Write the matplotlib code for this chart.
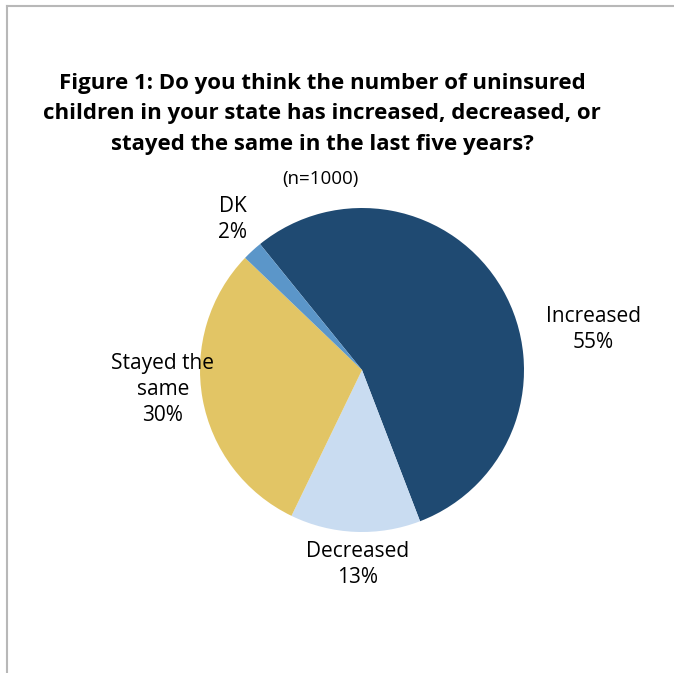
import matplotlib.pyplot as plt
from matplotlib.lines import Line2D

plt.rcParams['font.family'] = ['Open Sans', 'DejaVu Sans']

categories = ['Increased', 'Decreased', 'Stayed the\nsame', 'DK']
shares = [55, 13, 30, 2]
colors = ['#1F4A72', '#C9DCF1', '#E2C565', '#5B96C9']

# label anchor points in pie units (radius = 1)
label_xy = [(1.43, 0.25), (-0.03, -1.20), (-1.23, -0.12), (-0.80, 0.93)]

W, H = 674, 673
fig = plt.figure(figsize=(W / 100, H / 100), dpi=100)

# thin gray frame along the top and left edges
fig.add_artist(Line2D([7 / W, 7 / W], [0, 1 - 6 / H], color='#B8B8B8', lw=1.5))
fig.add_artist(Line2D([7 / W, 1], [1 - 6 / H, 1 - 6 / H], color='#B8B8B8', lw=1.5))

cx, cy, r = 362, 370, 162
ax = fig.add_axes([(cx - r) / W, (H - cy - r) / H, 2 * r / W, 2 * r / H])
ax.pie(shares, colors=colors, startangle=129, counterclock=False,
       radius=1, wedgeprops=dict(linewidth=0))
ax.set_xlim(-1, 1)
ax.set_ylim(-1, 1)
ax.set_aspect('equal')
ax.axis('off')

for name, val, (x, y) in zip(categories, shares, label_xy):
    ax.text(x, y, f'{name}\n{val}%', ha='center', va='center', fontsize=15,
            linespacing=1.3, color='black', clip_on=False)

fig.text(322 / W, 1 - 114 / H,
         'Figure 1: Do you think the number of uninsured\n'
         'children in your state has increased, decreased, or\n'
         'stayed the same in the last five years?',
         ha='center', va='center', fontsize=16, fontweight='bold',
         linespacing=1.58)
fig.text(320 / W, 1 - 179 / H, '(n=1000)', ha='center', va='center', fontsize=13.5)

fig.savefig('out.png', dpi=100)
